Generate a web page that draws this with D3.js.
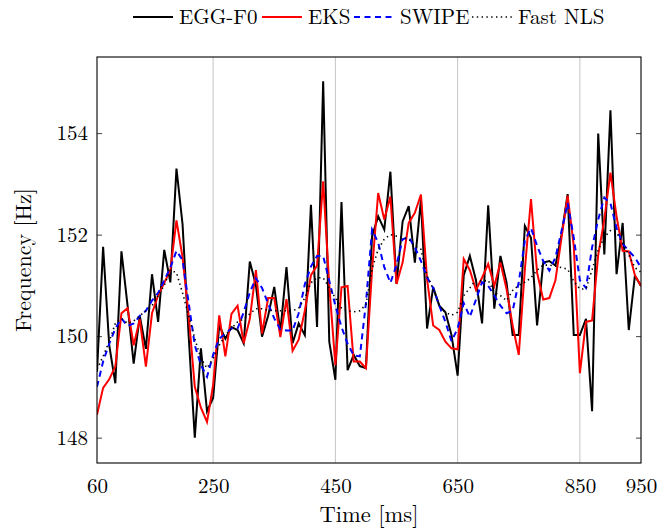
<!DOCTYPE html>
<html>
<head>
<meta charset="utf-8">
<script src="https://cdn.jsdelivr.net/npm/d3@7"></script>
<style>body { margin: 0; background: #fff; }</style>
</head>
<body>
<svg id="chart" width="661" height="531"></svg>
<script>
// ---- data (time in ms, frequency in Hz) ----
const timeMs = [60,70,80,90,100,110,120,130,140,150,160,170,180,190,200,210,220,230,240,250,
  260,270,280,290,300,310,320,330,340,350,360,370,380,390,400,410,420,430,440,450,
  460,470,480,490,500,510,520,530,540,550,560,570,580,590,600,610,620,630,640,650,
  660,670,680,690,700,710,720,730,740,750,760,770,780,790,800,810,820,830,840,850,
  860,870,880,890,900,910,920,930,940,950];

const eggF0 = [149.30,151.76,149.82,149.07,151.67,150.60,149.46,150.40,149.75,151.22,
  150.28,151.70,151.06,153.30,152.20,150.00,148.00,149.76,148.52,148.78,
  150.21,149.95,150.18,150.12,149.86,151.47,151.00,149.99,150.40,150.97,
  150.09,151.36,149.86,150.25,150.02,152.59,150.18,155.02,149.89,149.14,
  152.64,149.33,149.63,149.41,149.37,151.97,152.36,152.10,153.24,151.03,
  152.26,152.56,151.45,152.69,150.15,150.96,150.60,150.47,150.02,149.22,
  151.20,151.58,151.10,150.25,152.58,150.54,151.58,151.06,150.02,150.02,
  152.17,151.94,150.21,151.45,151.48,151.39,152.00,152.80,150.02,150.02,
  150.34,148.52,153.99,151.61,154.45,151.22,152.23,150.12,151.19,150.99];

const eks = [148.45,148.98,149.15,149.40,150.45,150.55,149.82,150.33,149.40,150.45,
  150.80,151.05,151.30,152.28,151.55,150.40,149.00,148.59,148.31,149.04,
  150.41,149.60,150.44,150.60,149.86,150.34,151.30,150.05,150.75,150.75,
  149.98,150.73,149.71,149.93,150.50,151.20,151.39,153.05,151.00,149.43,
  150.96,150.99,149.50,149.50,149.37,151.30,152.82,152.30,152.75,151.03,
  151.45,152.23,152.43,152.79,151.12,150.21,150.12,149.89,149.76,149.74,
  151.52,151.30,150.91,151.15,151.42,150.99,151.45,150.93,150.21,149.63,
  151.32,152.70,151.25,150.72,150.75,151.10,151.94,152.77,151.78,149.27,
  150.28,150.31,151.60,152.30,153.22,152.36,151.68,151.67,151.20,150.99];

const swipe = [149.00,149.50,149.85,150.15,150.35,150.20,150.25,150.40,150.50,150.70,
  150.85,151.10,151.35,151.68,151.50,150.65,149.82,149.43,149.20,149.63,
  149.95,150.05,150.15,150.15,150.47,150.86,151.14,150.95,150.64,150.35,
  150.13,150.11,150.11,150.45,151.02,151.37,151.58,151.58,151.09,150.60,
  150.18,149.85,149.62,149.60,150.65,152.10,151.84,151.36,151.05,151.40,
  151.91,151.95,151.75,151.48,151.16,150.95,150.60,150.28,149.90,150.15,
  150.65,150.38,150.72,151.06,150.99,150.80,150.60,150.45,150.50,151.06,
  151.88,152.13,151.78,151.48,151.29,151.55,152.07,152.62,151.94,151.10,
  150.95,151.75,152.30,152.73,152.62,152.13,151.82,151.68,151.55,151.35];

const fastNLS = [149.35,149.60,149.90,150.25,150.35,150.25,150.30,150.40,150.50,150.60,
  150.80,151.00,151.30,151.25,150.85,150.40,149.95,149.56,149.37,149.56,
  149.82,150.02,150.15,150.28,150.34,150.44,150.54,150.54,150.51,150.50,
  150.50,150.50,150.50,150.55,150.75,151.05,151.15,151.15,150.95,150.75,
  150.55,150.50,150.48,150.50,150.62,151.32,151.71,151.91,152.00,151.97,
  151.94,151.91,151.78,151.71,151.19,150.93,150.60,150.47,150.41,150.47,
  150.80,150.95,151.11,151.08,151.10,150.86,150.80,150.70,150.90,151.00,
  151.06,151.15,151.30,151.40,151.40,151.38,151.35,151.32,151.08,150.93,
  150.93,151.31,151.70,151.95,152.08,152.05,151.82,151.60,151.35,151.26];

const xTicks = [60, 250, 450, 650, 850, 950];
const gridTicks = [250, 450, 650, 850];
const yTicks = [148, 150, 152, 154];
const seriesNames = ["EGG-F0", "EKS", "SWIPE", "Fast NLS"];

// ---- layout ----
const FONT = "Latin Modern Roman, CMU Serif, Liberation Serif, serif";
const L = 97, R = 641, T = 57, B = 463;
const svg = d3.select("#chart");
const x = d3.scaleLinear().domain([60, 950]).range([L, R]);
const y = d3.scaleLinear().domain([147.5, 155.5]).range([B, T]);

const styles = [
  { color: "#000000", width: 2, dash: null },
  { color: "#ff0000", width: 2, dash: null },
  { color: "#0000ff", width: 2, dash: "6,4.5" },
  { color: "#000000", width: 1.6, dash: "1.4,3.4" }
];
const series = [eggF0, eks, swipe, fastNLS];

svg.append("defs").append("clipPath").attr("id", "clip")
  .append("rect").attr("x", L).attr("y", T).attr("width", R - L).attr("height", B - T);

// grid
svg.append("g").selectAll("line").data(gridTicks).join("line")
  .attr("x1", d => x(d)).attr("x2", d => x(d))
  .attr("y1", T).attr("y2", B)
  .attr("stroke", "#c4c4c4").attr("stroke-width", 1);

// y axes (inward ticks)
const yAxisL = svg.append("g").attr("transform", `translate(${L},0)`)
  .call(d3.axisLeft(y).tickValues(yTicks).tickSizeInner(-5).tickSizeOuter(0).tickPadding(9).tickFormat(d3.format("d")));
yAxisL.select(".domain").remove();
yAxisL.selectAll("line").attr("stroke", "#444");
yAxisL.selectAll("text").attr("font-family", FONT).attr("font-size", 21).attr("fill", "#000");

const yAxisR = svg.append("g").attr("transform", `translate(${R},0)`)
  .call(d3.axisRight(y).tickValues(yTicks).tickSizeInner(-5).tickSizeOuter(0).tickFormat(""));
yAxisR.select(".domain").remove();
yAxisR.selectAll("line").attr("stroke", "#444");

// x axis
const xAxis = svg.append("g").attr("transform", `translate(0,${B})`)
  .call(d3.axisBottom(x).tickValues(xTicks).tickSize(0).tickPadding(15).tickFormat(d3.format("d")));
xAxis.select(".domain").remove();
xAxis.selectAll("text").attr("font-family", FONT).attr("font-size", 21).attr("fill", "#000");

// lines
const plot = svg.append("g").attr("clip-path", "url(#clip)");
series.forEach((vals, k) => {
  const line = d3.line().x((d, i) => x(timeMs[i])).y(d => y(d));
  const p = plot.append("path").datum(vals)
    .attr("d", line)
    .attr("fill", "none")
    .attr("stroke", styles[k].color)
    .attr("stroke-width", styles[k].width)
    .attr("stroke-linejoin", "miter")
    .attr("stroke-miterlimit", 4);
  if (styles[k].dash) p.attr("stroke-dasharray", styles[k].dash);
});

// frame
svg.append("rect").attr("x", L).attr("y", T).attr("width", R - L).attr("height", B - T)
  .attr("fill", "none").attr("stroke", "#000").attr("stroke-width", 1.1);

// axis labels
svg.append("text").attr("x", (L + R) / 2).attr("y", 522).attr("text-anchor", "middle")
  .attr("font-family", FONT).attr("font-size", 22.5).attr("fill", "#000").text("Time [ms]");
svg.append("text").attr("transform", `translate(31,${(T + B) / 2}) rotate(-90)`)
  .attr("text-anchor", "middle").attr("font-family", FONT).attr("font-size", 22).attr("fill", "#000")
  .text("Frequency [Hz]");

// legend
const legendX = [133, 262, 354, 472];
const lg = svg.append("g");
seriesNames.forEach((name, k) => {
  const l = lg.append("line").attr("x1", legendX[k]).attr("x2", legendX[k] + 40)
    .attr("y1", 17).attr("y2", 17)
    .attr("stroke", styles[k].color).attr("stroke-width", styles[k].width);
  if (styles[k].dash) l.attr("stroke-dasharray", styles[k].dash);
  lg.append("text").attr("x", legendX[k] + 46).attr("y", 24)
    .attr("font-family", FONT).attr("font-size", 21).attr("fill", "#000").text(name);
});
</script>
</body>
</html>
